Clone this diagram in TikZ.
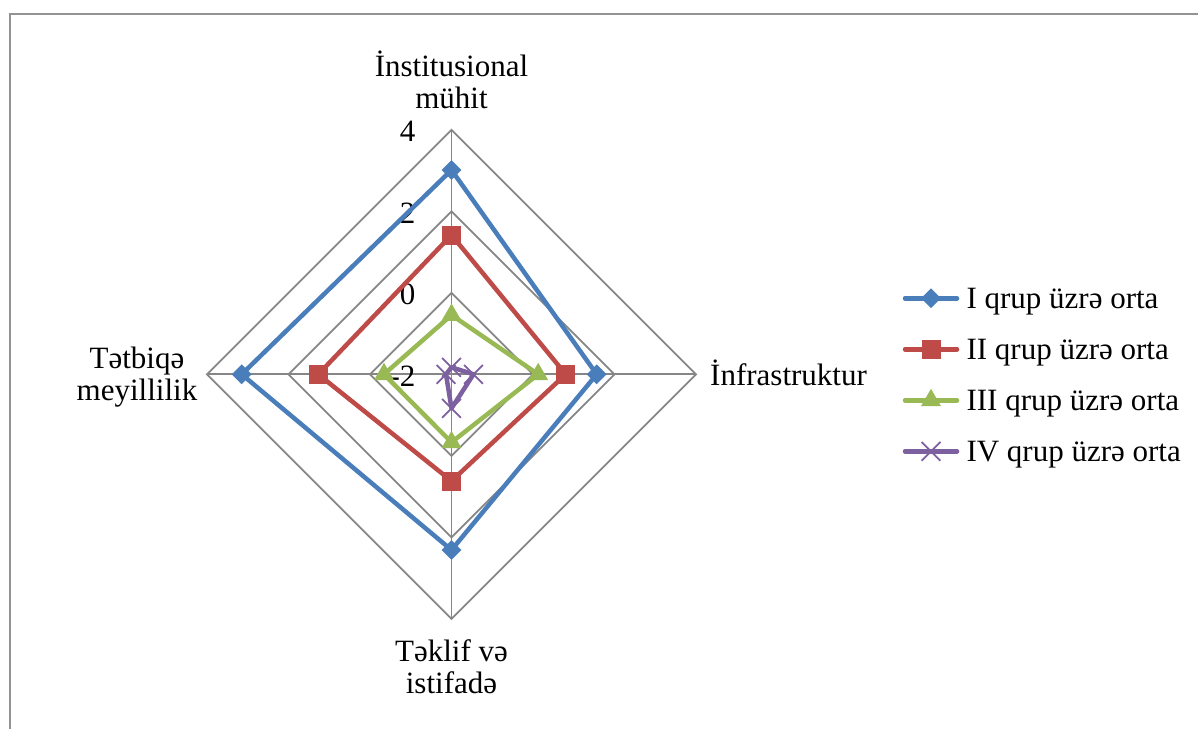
\documentclass[tikz,border=0pt]{standalone}
\usepackage{fontspec}
\setmainfont{Liberation Serif}
\usetikzlibrary{shapes.geometric,shapes.misc}
\definecolor{blueI}{HTML}{4A7EBB}
\definecolor{redII}{HTML}{BE4B48}
\definecolor{greenIII}{HTML}{98B954}
\definecolor{purpleIV}{HTML}{7D60A0}
\definecolor{webgray}{HTML}{868686}
\tikzset{webline/.style={draw=webgray, line width=1.8pt}}
\tikzset{series/.style={line width=4.5pt, line join=round, line cap=round}}
\tikzset{mkI/.style={diamond, fill=blueI, inner sep=0pt, minimum size=20pt}}
\tikzset{mkII/.style={rectangle, fill=redII, inner sep=0pt, minimum size=19pt}}
\tikzset{mkIII/.style={regular polygon, regular polygon sides=3, fill=greenIII, inner sep=0pt, minimum size=23pt}}
\tikzset{mkIV/.style={cross out, draw=purpleIV, line width=1.8pt, inner sep=0pt, minimum size=17pt}}

\begin{document}
\begin{tikzpicture}[x=1pt, y=1pt, font=\fontsize{31}{32}\selectfont]
    \useasboundingbox (-451.5,-354.7) rectangle (746.5,374.3);
    % frame
    \draw[draw=webgray!90, line width=2.5pt] (-441.5,-354.7) -- (-441.5,360.3) -- (746.5,360.3);
    % web
    \coordinate (o) at (0,0);
    \coordinate (top) at (90:244.5);
    \coordinate (right) at (0:244.5);
    \coordinate (bot) at (-90:244.5);
    \coordinate (left) at (180:244.5);
    \foreach \r in {81.5, 163, 244.5}
      \draw[webline] (90:\r) -- (0:\r) -- (-90:\r) -- (180:\r) -- cycle;
    \draw[webline] (o) -- (top) (o) -- (right) (o) -- (bot) (o) -- (left);
    \node[anchor=base east] (t4) at (-32.5,232.8) {4};
    \node[anchor=base east] (t2) at (-32.5,151.3) {2};
    \node[anchor=base east] (t0) at (-32.5,69.8) {0};
    \node[anchor=base east] (tm2) at (-32.5,-11.7) {-2};
    % axis labels
    \node[align=center, anchor=base] (inst) at (0,266.3) {İnstitusional\\mühit};
    \node[anchor=base west] (infra) at (255.2,-10.7) {İnfrastruktur};
    \node[align=center, anchor=base] (tekl) at (0,-319) {Təklif və\\istifadə};
    \node[align=center, anchor=base] (tetb) at (-314.5,-25.7) {Tətbiqə\\meyillilik};
    % I qrup
    \coordinate (I1) at (90:204.3);
    \coordinate (I2) at (0:145.2);
    \coordinate (I3) at (-90:175.7);
    \coordinate (I4) at (180:209.8);
    \draw[series, blueI] (I1) -- (I2) -- (I3) -- (I4) -- cycle;
    \foreach \p in {I1,I2,I3,I4} \node[mkI] at (\p) {};
    % II qrup
    \coordinate (II1) at (90:139.3);
    \coordinate (II2) at (0:114.2);
    \coordinate (II3) at (-90:106.7);
    \coordinate (II4) at (180:133.2);
    \draw[series, redII] (II1) -- (II2) -- (II3) -- (II4) -- cycle;
    \foreach \p in {II1,II2,II3,II4} \node[mkII] at (\p) {};
    % III qrup
    \coordinate (III1) at (90:59.3);
    \coordinate (III2) at (0:86.7);
    \coordinate (III3) at (-90:68);
    \coordinate (III4) at (180:67.5);
    \draw[series, greenIII] (III1) -- (III2) -- (III3) -- (III4) -- cycle;
    \foreach \p in {III1,III2,III3,III4} \node[mkIII] at (\p) {};
    % IV qrup
    \coordinate (IV1) at (90:7);
    \coordinate (IV2) at (0:22);
    \coordinate (IV3) at (-90:34);
    \coordinate (IV4) at (180:5.5);
    \draw[series, purpleIV] (IV1) -- (IV2) -- (IV3) -- (IV4) -- cycle;
    \foreach \p in {IV1,IV2,IV3,IV4} \node[mkIV] at (\p) {};
    % legend
    \coordinate (LgI) at (479.5,76);
    \coordinate (LgII) at (479.5,25);
    \coordinate (LgIII) at (479.5,-26);
    \coordinate (LgIV) at (479.5,-77);
    \draw[series, blueI] ([xshift=-26pt]LgI) -- ([xshift=26pt]LgI);
    \node[mkI] at (LgI) {};
    \draw[series, redII] ([xshift=-26pt]LgII) -- ([xshift=26pt]LgII);
    \node[mkII] at (LgII) {};
    \draw[series, greenIII] ([xshift=-26pt]LgIII) -- ([xshift=26pt]LgIII);
    \node[mkIII] at (LgIII) {};
    \draw[series, purpleIV] ([xshift=-26pt]LgIV) -- ([xshift=26pt]LgIV);
    \node[mkIV] at (LgIV) {};
    \node[anchor=base west] (lI) at (511.5,66) {I qrup üzrə orta};
    \node[anchor=base west] (lII) at (511.5,15) {II qrup üzrə orta};
    \node[anchor=base west] (lIII) at (511.5,-36) {III qrup üzrə orta};
    \node[anchor=base west] (lIV) at (511.5,-87) {IV qrup üzrə orta};
  \end{tikzpicture}
\end{document}
